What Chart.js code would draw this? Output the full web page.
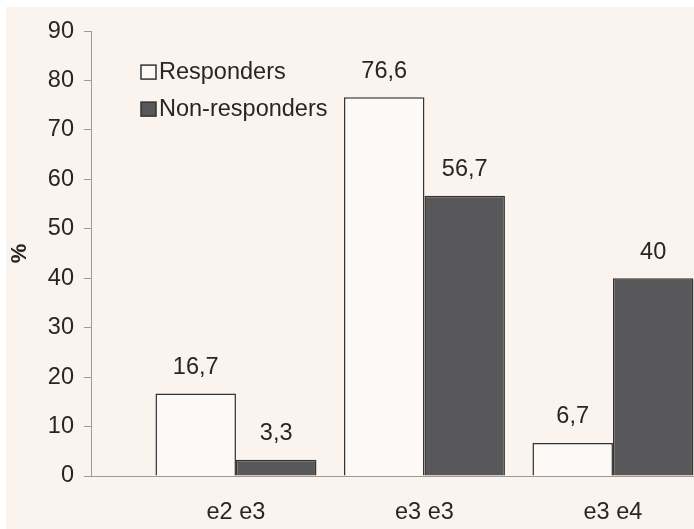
<!DOCTYPE html>
<html>
<head>
<meta charset="utf-8">
<script src="https://cdn.jsdelivr.net/npm/chart.js@4/dist/chart.umd.min.js"></script>
<style>
  html, body { margin: 0; padding: 0; background: #ffffff; }
  #frame {
    position: absolute; left: 6px; top: 7px;
    width: 688px; height: 522px;
    background: #fbf3ee;
  }
</style>
</head>
<body>
<div id="frame"><canvas id="chart"></canvas></div>
<script>
// Genotype groups and percentage of patients in each group
const categories = ['e2 e3', 'e3 e3', 'e3 e4'];
const responders = [16.7, 76.6, 6.7];
const nonResponders = [3.3, 56.7, 40];
const seriesNames = ['Responders', 'Non-responders'];
const yTicks = [0, 10, 20, 30, 40, 50, 60, 70, 80, 90];

const FONT = "'Liberation Sans', Arial, Helvetica, sans-serif";
const SIZE = 23.5;
const TEXT = '#262626';
const AXIS = '#9a9a9a';
const EDGE = '#333333';
const FILLS = ['#fdf9f6', '#58585a'];

const toPoints = vals => vals.map((v, i) => ({ x: i, y: v }));
const fmt = v => String(v).replace('.', ',');

// Value labels above each bar (decimal comma)
const valueLabels = {
  id: 'valueLabels',
  afterDatasetsDraw(chart) {
    const ctx = chart.ctx;
    ctx.save();
    ctx.font = SIZE + 'px ' + FONT;
    ctx.fillStyle = TEXT;
    ctx.textAlign = 'center';
    ctx.textBaseline = 'middle';
    chart.data.datasets.forEach((ds, di) => {
      chart.getDatasetMeta(di).data.forEach((bar, i) => {
        ctx.fillText(fmt(ds.data[i].y), bar.x, bar.y - 26);
      });
    });
    ctx.restore();
  }
};

// Legend drawn inside the plot, upper-left
const insideLegend = {
  id: 'insideLegend',
  afterDraw(chart) {
    const ctx = chart.ctx;
    const area = chart.chartArea;
    const x0 = area.left + 50;
    let y0 = area.top + 34;
    ctx.save();
    ctx.font = SIZE + 'px ' + FONT;
    ctx.textAlign = 'left';
    ctx.textBaseline = 'middle';
    chart.data.datasets.forEach(ds => {
      ctx.fillStyle = ds.backgroundColor;
      ctx.fillRect(x0, y0, 15, 14);
      ctx.strokeStyle = EDGE;
      ctx.lineWidth = 1.5;
      ctx.strokeRect(x0, y0, 15, 14);
      ctx.fillStyle = TEXT;
      ctx.fillText(ds.label, x0 + 18, y0 + 7);
      y0 += 37;
    });
    ctx.restore();
  }
};

Chart.defaults.font.family = FONT;
Chart.defaults.color = TEXT;

new Chart(document.getElementById('chart'), {
  type: 'bar',
  data: {
    datasets: [
      { label: seriesNames[0], data: toPoints(responders), backgroundColor: FILLS[0] },
      { label: seriesNames[1], data: toPoints(nonResponders), backgroundColor: FILLS[1] }
    ].map(ds => Object.assign(ds, {
      borderColor: EDGE,
      borderWidth: 1.5,
      categoryPercentage: 0.854,
      barPercentage: 1
    }))
  },
  options: {
    responsive: true,
    maintainAspectRatio: false,
    animation: false,
    layout: { padding: { top: 22, right: 0, bottom: 0, left: 0 } },
    plugins: {
      legend: { display: false },
      tooltip: { enabled: false }
    },
    scales: {
      x: {
        type: 'linear',
        offset: false,
        grace: 0,
        min: -0.769,
        max: 2.43,
        afterBuildTicks: s => { s.ticks = categories.map((_, i) => ({ value: i })); },
        afterFit: s => { s.height = 53; },
        grid: { display: false },
        border: { display: true, color: AXIS, width: 1 },
        ticks: {
          padding: 14,
          font: { size: SIZE },
          color: TEXT,
          callback: v => categories[v]
        }
      },
      y: {
        min: 0,
        max: 90,
        afterBuildTicks: s => { s.ticks = yTicks.map(v => ({ value: v })); },
        afterFit: s => { s.width = 85; },
        grid: { drawOnChartArea: false, drawTicks: true, tickLength: 7, color: AXIS },
        border: { display: true, color: AXIS, width: 1 },
        ticks: { padding: 10, font: { size: SIZE }, color: TEXT },
        title: {
          display: true,
          text: '%',
          font: { size: 22, weight: 'bold' },
          color: TEXT,
          padding: { top: 1, bottom: 0 }
        }
      }
    }
  },
  plugins: [valueLabels, insideLegend]
});
</script>
</body>
</html>
